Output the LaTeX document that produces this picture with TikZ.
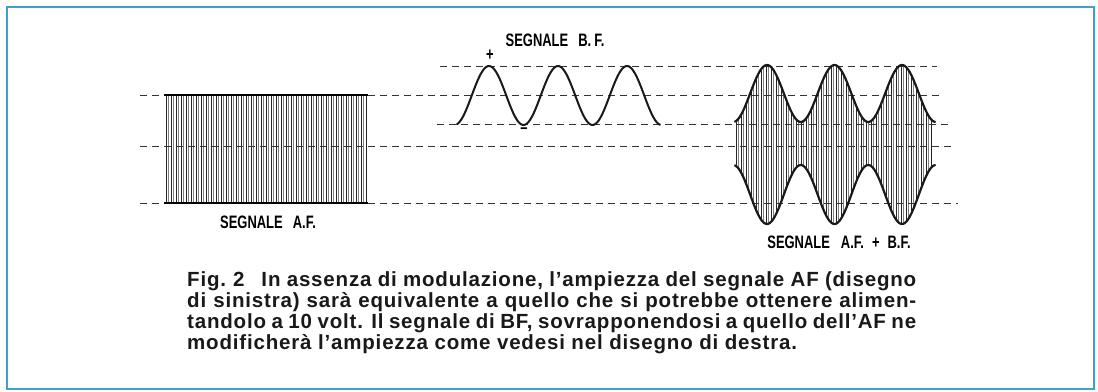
\documentclass[tikz,border=0pt]{standalone}
\usepackage{fontspec}
\setmainfont{Liberation Sans}
\newfontfamily\labfont[FakeStretch=0.72]{Liberation Sans}
\newfontfamily\capfont[LetterSpace=4]{Liberation Sans}
\definecolor{bordo}{RGB}{66,158,204}

\begin{document}
\begin{tikzpicture}[x=1pt,y=-1pt,
	guida/.style={dash pattern=on 7pt off 5pt, line width=0.9pt, black!80},
	trattoA/.style={line width=0.75pt, black!85},
	trattoB/.style={line width=0.6pt, black!50},
	busta/.style={line width=2.2pt, black!90, line cap=round},
	etichetta/.style={font=\labfont\bfseries\fontsize{18}{18}\selectfont, inner sep=0pt},
	didascalia/.style={text width=729pt, align=justify, inner sep=0pt, black!90,
		font=\capfont\bfseries\fontsize{20.5}{21}\selectfont}]
	\useasboundingbox (0,0) rectangle (1098,391);
	% 外框
	\draw[bordo, line width=2.2pt] (7,7) rectangle (1094,389);
	
	% 左图：高频信号的竖线
	\foreach \x in {166,171,...,366} \draw[trattoA] (\x,95) -- (\x,203);
	\foreach \x in {168.5,173.5,...,363.5} \draw[trattoB] (\x,95) -- (\x,203);
	
	% 右图：调制后信号的竖线（上下包络之间）
	\foreach \x in {736,741,...,934} \draw[trattoA] (\x,{93.5-28.5*cos((360/67.5)*(\x-767))}) -- (\x,{194.5+29.5*cos((360/67.5)*(\x-767))});
	\foreach \x in {738.5,743.5,...,931.5} \draw[trattoB] (\x,{93.5-28.5*cos((360/67.5)*(\x-767))}) -- (\x,{194.5+29.5*cos((360/67.5)*(\x-767))});
	
	% 水平虚线
	\draw[guida] (440,66) -- (937,66);
	\draw[guida] (140,95) -- (943,95);
	\draw[guida] (437,124) -- (950,124);
	\draw[guida] (140,146) -- (953,146);
	\draw[guida] (140,203) -- (958,203);
	
	% 左图上下粗线
	\draw[line width=2.5pt] (164,95) -- (368,95);
	\draw[line width=2.5pt] (164,203) -- (368,203);
	
	% 低频正弦波
	\draw[busta, line width=2pt] plot[domain=457:660, samples=120] (\x,{95.5-29.5*cos((360/69)*(\x-489))});
	
	% 包络线
	\draw[busta] plot[domain=735:935, samples=120] (\x,{93.5-28.5*cos((360/67.5)*(\x-767))});
	\draw[busta] plot[domain=735:935, samples=120] (\x,{194.5+29.5*cos((360/67.5)*(\x-767))});
	
	% 文字
	\node[etichetta] (af) at (268,222) {SEGNALE\hspace{10pt}A.F.};
	\node[etichetta] (bf) at (555,40) {SEGNALE\hspace{10pt}B.\,F.};
	\node[etichetta] (piu) at (490,55) {+};
	\node[etichetta] (meno) at (524,131) {–};
	\node[etichetta] (afbf) at (839,242) {SEGNALE\hspace{11pt}A.F.\hspace{8pt}+\hspace{8pt}B.F.};
	\node[didascalia, anchor=base west] (cap) at (187,286) {Fig.\kern7pt 2\kern17pt In assenza di modulazione, l’ampiezza del segnale AF (disegno\linebreak di sinistra) sarà equivalente a quello che si potrebbe ottenere alimen-\linebreak tandolo a 10 volt. Il segnale di BF, sovrapponendosi a quello dell’AF ne\linebreak modificherà l’ampiezza come vedesi nel disegno di destra.};
\end{tikzpicture}
\end{document}
